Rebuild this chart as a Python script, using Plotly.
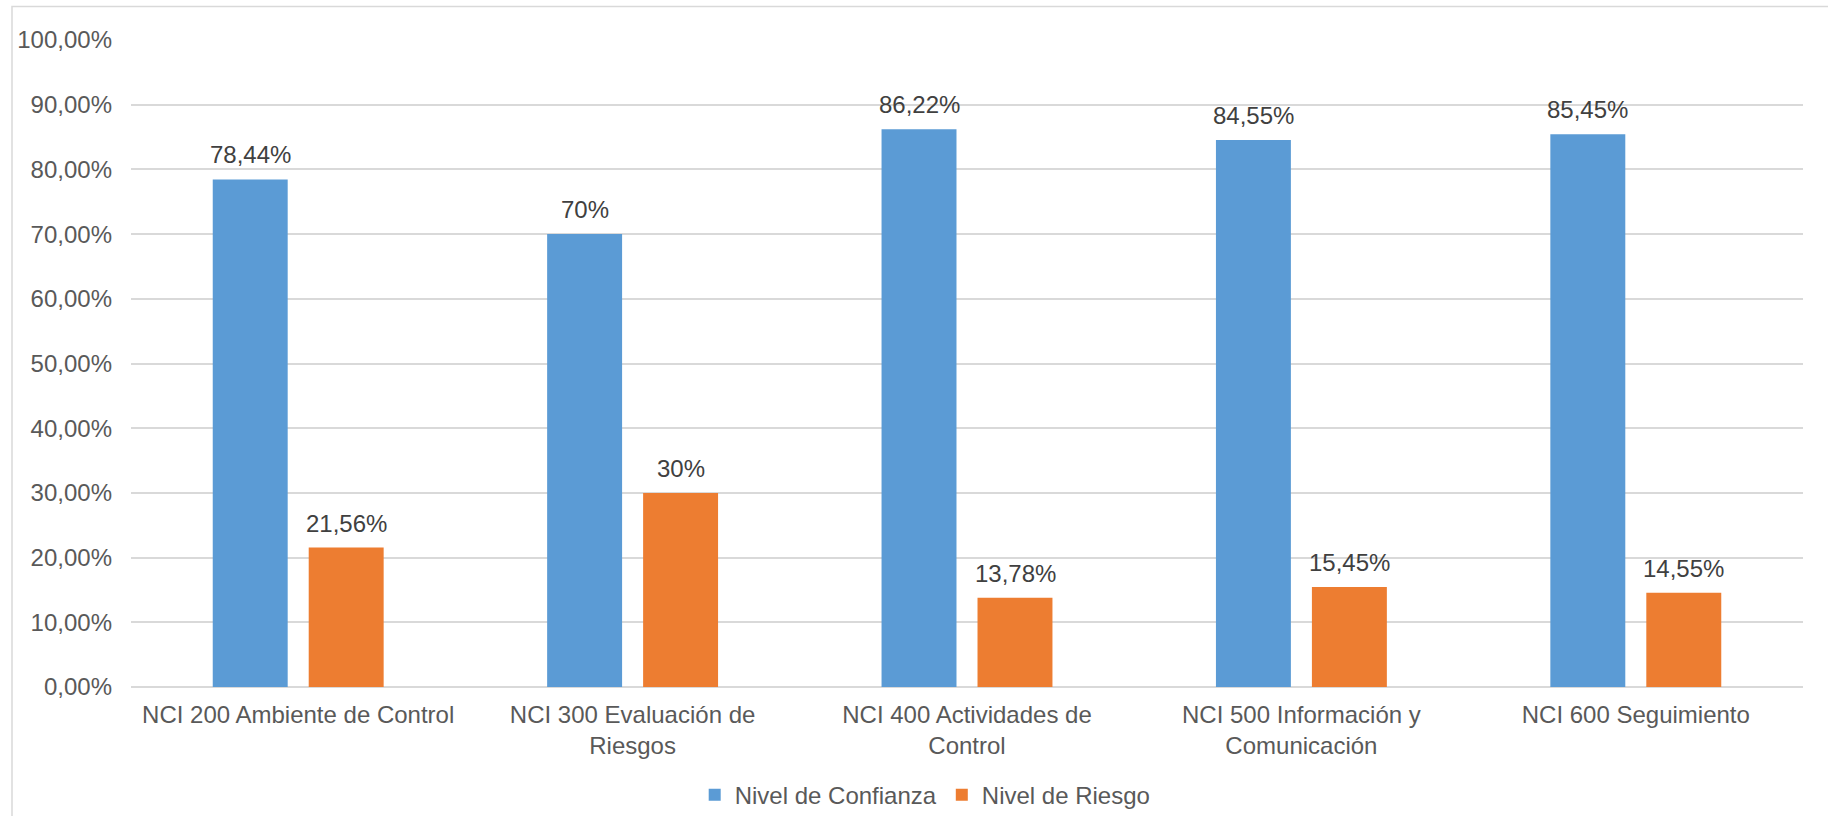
import plotly.graph_objects as go

categories = ["NCI 200 Ambiente de Control", "NCI 300 Evaluación de<br>Riesgos",
              "NCI 400 Actividades de<br>Control", "NCI 500 Información y<br>Comunicación",
              "NCI 600 Seguimiento"]
confianza = [78.44, 70, 86.22, 84.55, 85.45]
riesgo = [21.56, 30, 13.78, 15.45, 14.55]
confianza_labels = ["78,44%", "70%", "86,22%", "84,55%", "85,45%"]
riesgo_labels = ["21,56%", "30%", "13,78%", "15,45%", "14,55%"]
y_ticks = [0, 10, 20, 30, 40, 50, 60, 70, 80, 90, 100]

W, H = 1828, 816
L, R, T, B = 131, 25, 39.5, 129
FONT = "Arial, Liberation Sans, sans-serif"
GRID = "#D9D9D9"

fig = go.Figure()
fig.add_trace(go.Bar(name="Nivel de Confianza", x=categories, y=confianza,
                     marker=dict(color="#5B9BD5", line=dict(width=0))))
fig.add_trace(go.Bar(name="Nivel de Riesgo", x=categories, y=riesgo,
                     marker=dict(color="#ED7D31", line=dict(width=0))))

annotations = []
for c, v, t in zip(categories, confianza, confianza_labels):
    annotations.append(dict(x=c, y=v, xref="x", yref="y", text=t, showarrow=False,
                            xshift=-48, yshift=9, yanchor="bottom",
                            font=dict(family=FONT, size=24, color="#404040")))
for c, v, t in zip(categories, riesgo, riesgo_labels):
    annotations.append(dict(x=c, y=v, xref="x", yref="y", text=t, showarrow=False,
                            xshift=48, yshift=9, yanchor="bottom",
                            font=dict(family=FONT, size=24, color="#404040")))

pw = W - L - R
ph = H - T - B
fig.add_shape(type="rect", xref="paper", yref="paper",
              x0=(12 - L) / pw, x1=(W + 10 - L) / pw,
              y0=(H - B - (H + 10)) / ph, y1=(H - B - 6) / ph,
              line=dict(color=GRID, width=1.5), fillcolor="rgba(0,0,0,0)", layer="below")

fig.update_layout(
    width=W, height=H,
    margin=dict(l=L, r=R, t=T, b=B, autoexpand=False),
    paper_bgcolor="white", plot_bgcolor="white",
    barmode="group", bargap=0.426, bargroupgap=0.219,
    separators=",.",
    font=dict(family=FONT, size=24, color="#595959"),
    annotations=annotations,
    showlegend=True,
    legend=dict(orientation="h", x=0.475, xanchor="center", y=-0.167, yanchor="middle",
                font=dict(family=FONT, size=24, color="#595959"),
                itemwidth=30, traceorder="normal"),
    xaxis=dict(showgrid=False, showline=False, ticks="", ticklabelstandoff=11,
               tickfont=dict(family=FONT, size=24, color="#595959")),
    yaxis=dict(range=[0, 100], tickvals=y_ticks, ticktext=[f"{v},00%" for v in y_ticks],
               showgrid=True, gridcolor=GRID, gridwidth=1.5,
               zeroline=True, zerolinecolor=GRID, zerolinewidth=1.5,
               showline=False, ticks="", ticklabelstandoff=18,
               tickfont=dict(family=FONT, size=24, color="#595959")),
)

fig.write_html("out.html")
